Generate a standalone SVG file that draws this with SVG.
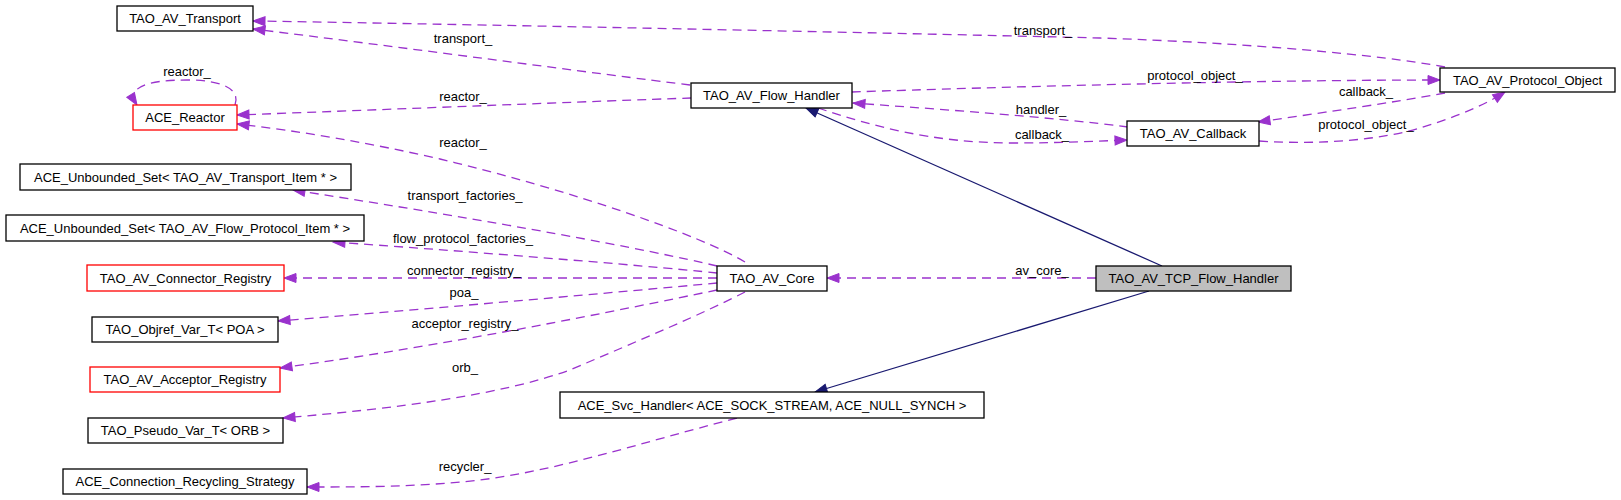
<svg xmlns="http://www.w3.org/2000/svg" width="1621" height="500" viewBox="0 0 1621 500">
<style>
.box{fill:#ffffff;stroke:#000000;stroke-width:1.3}
.red{fill:#ffffff;stroke:#ff0000;stroke-width:1.3}
.gray{fill:#bfbfbf;stroke:#000000;stroke-width:1.3}
.t{font-family:"Liberation Sans",Arial,sans-serif;font-size:13px;fill:#000000;text-anchor:middle}
.use{fill:none;stroke:#9a32cd;stroke-width:1.3;stroke-dasharray:9,6;marker-end:url(#ap)}
.inh{fill:none;stroke:#191970;stroke-width:1.3;marker-end:url(#an)}
</style>
<defs>
<marker id="ap" markerUnits="userSpaceOnUse" markerWidth="14" markerHeight="11" refX="12" refY="4.5" orient="auto" overflow="visible">
<path d="M0,0 L12,4.5 L0,9 z" fill="#9a32cd" stroke="#9a32cd" stroke-width="1"/>
</marker>
<marker id="an" markerUnits="userSpaceOnUse" markerWidth="14" markerHeight="11" refX="12" refY="4.5" orient="auto" overflow="visible">
<path d="M0,0 L12,4.5 L0,9 z" fill="#191970" stroke="#191970" stroke-width="1"/>
</marker>
</defs>
<rect width="1621" height="500" fill="#ffffff"/>
<g id="connectors">
<path class="use" d="M1445,67 C1380,55 1250,43 1100,38 C850,32 450,24 253,21"/>
<path class="use" d="M690,85 C600,74 400,47 253,29"/>
<path class="use" d="M691,98 C600,101 400,109 237,115"/>
<path class="use" d="M745,262 C700,235 570,190 440,159 C370,143 300,131 237,124"/>
<path class="use" d="M235,105 C240,92 228,80 187,80 C150,80 125,86 137,105"/>
<path class="use" d="M717,266 C650,250 500,222 293,190"/>
<path class="use" d="M717,273 C640,265 450,250 333,242"/>
<path class="use" d="M717,278 L284,278"/>
<path class="use" d="M717,283 C620,292 450,307 278,321"/>
<path class="use" d="M717,290 C620,310 450,345 280,368"/>
<path class="use" d="M745,292 C700,315 640,340 570,370 C500,395 400,408 283,418"/>
<path class="use" d="M737,418 C640,443 560,470 480,480 C420,487 360,487 307,487"/>
<path class="use" d="M1096,278 L827,278"/>
<path class="use" d="M852,92 C1000,87 1250,80 1440,80"/>
<path class="use" d="M1128,127 C1050,117 950,110 853,103"/>
<path class="use" d="M818,108 C870,125 930,143 1013,143 C1060,143 1100,141 1127,140"/>
<path class="use" d="M1445,93 C1390,103 1320,113 1258,122"/>
<path class="use" d="M1259,141 C1320,145 1380,140 1420,128 C1460,116 1488,103 1505,92"/>
<path class="inh" d="M1162,266 L806,108"/>
<path class="inh" d="M1149,291 L815,392"/>
<text class="t" x="1043" y="35">transport_</text>
<text class="t" x="463" y="43">transport_</text>
<text class="t" x="187" y="76">reactor_</text>
<text class="t" x="463" y="101">reactor_</text>
<text class="t" x="463" y="147">reactor_</text>
<text class="t" x="465" y="200">transport_factories_</text>
<text class="t" x="463" y="243">flow_protocol_factories_</text>
<text class="t" x="464" y="275">connector_registry_</text>
<text class="t" x="464" y="297">poa_</text>
<text class="t" x="465" y="328">acceptor_registry_</text>
<text class="t" x="465" y="372">orb_</text>
<text class="t" x="465" y="471">recycler_</text>
<text class="t" x="1195" y="80">protocol_object_</text>
<text class="t" x="1366" y="96">callback_</text>
<text class="t" x="1041" y="114">handler_</text>
<text class="t" x="1042" y="139">callback_</text>
<text class="t" x="1366" y="129">protocol_object_</text>
<text class="t" x="1042" y="275">av_core_</text>
</g>
<g id="n_transport"><rect class="box" x="117" y="6" width="136" height="25"/><text class="t" x="185" y="23">TAO_AV_Transport</text></g>
<g id="n_reactor"><rect class="red" x="133" y="105" width="104" height="25"/><text class="t" x="185" y="122">ACE_Reactor</text></g>
<g id="n_uset_transport"><rect class="box" x="20" y="164" width="331" height="26"/><text class="t" x="185.5" y="181.5">ACE_Unbounded_Set&lt; TAO_AV_Transport_Item * &gt;</text></g>
<g id="n_uset_flow"><rect class="box" x="6" y="215" width="358" height="26"/><text class="t" x="185" y="232.5">ACE_Unbounded_Set&lt; TAO_AV_Flow_Protocol_Item * &gt;</text></g>
<g id="n_connreg"><rect class="red" x="87" y="265" width="197" height="26"/><text class="t" x="185.5" y="282.5">TAO_AV_Connector_Registry</text></g>
<g id="n_objref"><rect class="box" x="92" y="317" width="186" height="25"/><text class="t" x="185" y="334">TAO_Objref_Var_T&lt; POA &gt;</text></g>
<g id="n_accreg"><rect class="red" x="90" y="367" width="190" height="25"/><text class="t" x="185" y="384">TAO_AV_Acceptor_Registry</text></g>
<g id="n_pseudo"><rect class="box" x="88" y="418" width="195" height="25"/><text class="t" x="185.5" y="435">TAO_Pseudo_Var_T&lt; ORB &gt;</text></g>
<g id="n_recycling"><rect class="box" x="63" y="469" width="244" height="25"/><text class="t" x="185" y="486">ACE_Connection_Recycling_Strategy</text></g>
<g id="n_flowhandler"><rect class="box" x="691" y="83" width="161" height="25"/><text class="t" x="771.5" y="100">TAO_AV_Flow_Handler</text></g>
<g id="n_core"><rect class="box" x="717" y="266" width="110" height="25"/><text class="t" x="772" y="283">TAO_AV_Core</text></g>
<g id="n_svc"><rect class="box" x="560" y="392" width="424" height="26"/><text class="t" x="772" y="409.5">ACE_Svc_Handler&lt; ACE_SOCK_STREAM, ACE_NULL_SYNCH &gt;</text></g>
<g id="n_tcp"><rect class="gray" x="1096" y="266" width="195" height="25"/><text class="t" x="1193.5" y="283">TAO_AV_TCP_Flow_Handler</text></g>
<g id="n_callback"><rect class="box" x="1127" y="121" width="132" height="25"/><text class="t" x="1193" y="138">TAO_AV_Callback</text></g>
<g id="n_protoobj"><rect class="box" x="1440" y="68" width="175" height="24"/><text class="t" x="1527.5" y="84.5">TAO_AV_Protocol_Object</text></g>
</svg>
